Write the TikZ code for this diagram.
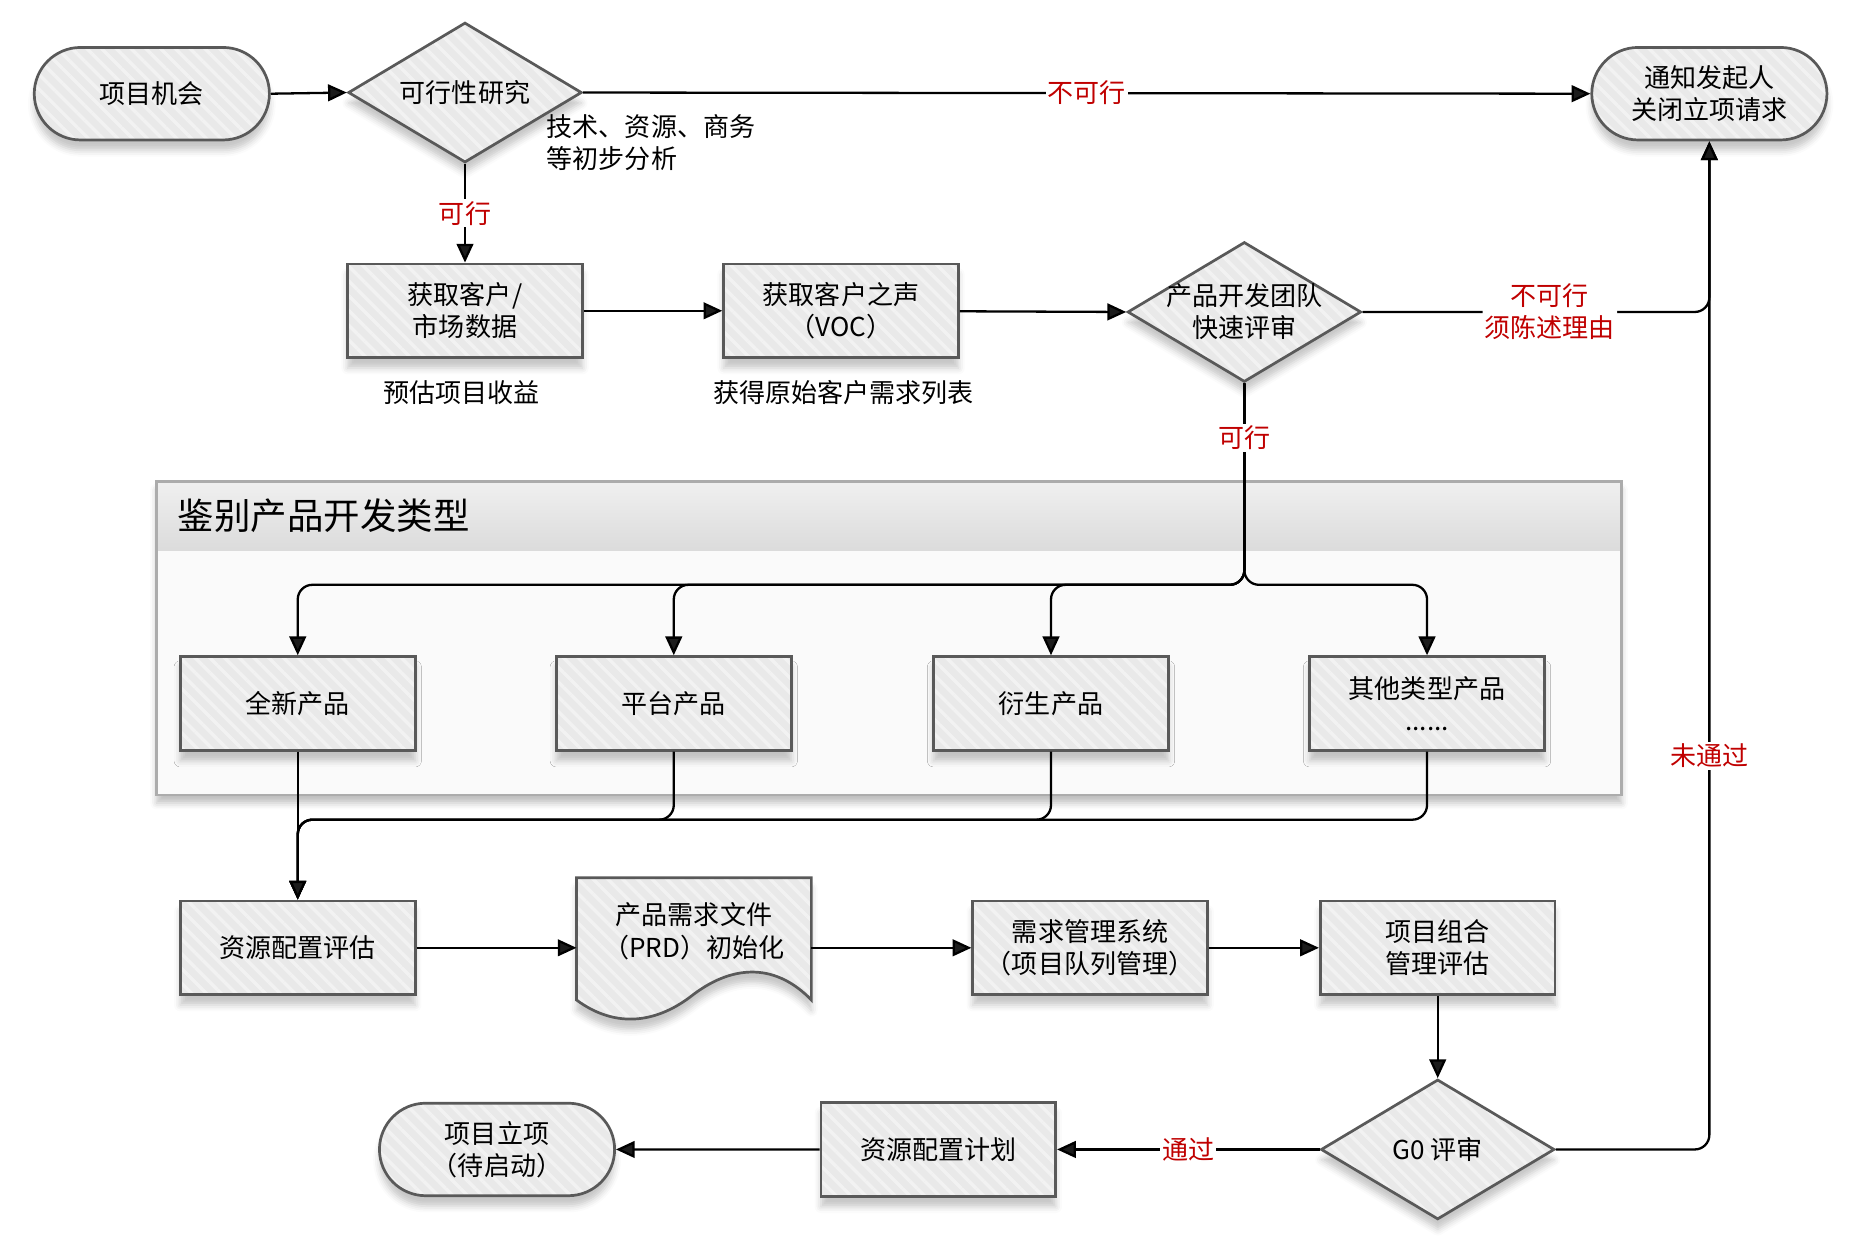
\documentclass[tikz,border=0pt]{standalone}
\usepackage{fontspec}
\setmainfont{Noto Sans CJK SC}
\usetikzlibrary{shapes.geometric,shapes.misc,arrows.meta,patterns.meta,shadows.blur}
\definecolor{nored}{RGB}{192,0,0}
\definecolor{edge}{RGB}{89,89,89}
\begin{document}
\begin{tikzpicture}[x=0.02cm, y=-0.02cm, font=\fontsize{12.5}{15.4}\selectfont, line width=1.1pt,
		box/.style={blur shadow={shadow xshift=0pt, shadow yshift=-5pt, shadow blur radius=3pt, shadow opacity=22},
			preaction={fill=gray!17}, draw=edge, line width=1.3pt, pattern={Lines[angle=-45,distance=5pt,line width=1.6pt]},
			pattern color=gray!10, align=center},
		proc/.style={box, rectangle, minimum width=3.96cm, minimum height=1.58cm},
		term/.style={box, rounded rectangle, minimum width=4.2cm, minimum height=1.56cm},
		dec/.style={box, diamond, minimum width=3.94cm, minimum height=2.36cm, inner sep=0pt},
		arr/.style={-{Triangle[length=9pt,width=8pt]}},
		lab/.style={text=nored, fill=white, inner sep=1pt, align=center}]
			\useasboundingbox (0,0) rectangle (1568,1061);
			\draw[blur shadow={shadow xshift=0pt, shadow yshift=-4pt, shadow blur radius=3pt, shadow opacity=25}, fill=gray!4, draw=none] (132,406) rectangle (1367,670);
			\shade[top color=gray!12, bottom color=gray!28] (132,406) rectangle (1367,464);
			\draw[gray!65, line width=1.2pt] (132,406) rectangle (1367,670);
			\node[anchor=west, inner sep=0pt, font=\fontsize{17.5}{20}\selectfont] (H) at (149,435) {鉴别产品开发类型};
			\node[term] (T1) at (128,79) {项目机会};
			\node[dec, label=center:可行性研究] (D1) at (392,78) {};
			\node[term] (T2) at (1441,79) {通知发起人\\关闭立项请求};
			\node[anchor=west, inner sep=0pt, align=left] (N1) at (460,120) {技术、资源、商务\\等初步分析};
			\node[proc] (B1) at (392,262) {获取客户/\\市场数据};
			\node[proc] (B2) at (709,262) {获取客户之声\\（VOC）};
			\node[dec, label={[align=center]center:产品开发团队\\快速评审}] (D2) at (1049,263) {};
			\node (C1) at (389,331) {预估项目收益}; \node (C2) at (711,331) {获得原始客户需求列表};
			\foreach \n/\x/\t in {P1/251/全新产品, P2/568/平台产品, P3/886/衍生产品, P4/1203/{其他类型产品\\......}}
				\node[proc] (\n) at (\x,593) {\t};
			\node[proc] (R1) at (251,799) {资源配置评估};
			\draw[box] (486,740) -- (684,740) -- (684,843) .. controls (655,813) and (620,812) .. (585,838)
				.. controls (555,862) and (520,868) .. (486,843) -- cycle;
			\node[align=center] (R2) at (585,785) {产品需求文件\\（PRD）初始化};
			\coordinate (DL) at (486,799); \coordinate (DR) at (684,799);
			\node[proc] (R3) at (919,799) {需求管理系统\\（项目队列管理）};
			\node[proc] (R4) at (1212,799) {项目组合\\管理评估};
			\node[dec, label=center:G0 评审] (G0) at (1212,969) {};
			\node[proc] (R5) at (791,969) {资源配置计划};
			\node[term] (T3) at (419,969) {项目立项\\（待启动）};
			\coordinate (J) at (1049,493); \coordinate (M) at (251,691);
			\draw[arr] (T1.east) -- (D1.west);
			\draw[arr] (D1.east) -- node[lab] {不可行} (T2.west);
			\draw[arr] (D1.south) -- node[lab] {可行} (B1.north);
			\draw[arr] (B1) -- (B2); \draw[arr] (B2) -- (D2.west);
			\draw[arr, rounded corners=7pt] (D2.east) -| node[lab, pos=0.27] {不可行\\须陈述理由} (T2.south);
			\foreach \n in {P1,P2,P3,P4} \draw[arr, rounded corners=7pt] (D2.south) |- (\n.north |- J) -- (\n.north);
			\node[lab] (K) at (1049,369) {可行};
			\draw[arr] (P1) -- (R1);
			\foreach \n in {P2,P3,P4} \draw[arr, rounded corners=7pt] (\n.south) |- (M) -- (R1.north);
			\draw[arr] (R1) -- (DL); \draw[arr] (DR) -- (R3); \draw[arr] (R3) -- (R4);
			\draw[arr] (R4) -- (G0.north);
			\draw[arr] (G0.west) -- node[lab] {通过} (R5); \draw[arr] (R5) -- (T3);
			\draw[arr, rounded corners=7pt] (G0.east) -| (T2.south);
			\node[lab] (L) at (1441,637) {未通过};
\end{tikzpicture}
\end{document}
